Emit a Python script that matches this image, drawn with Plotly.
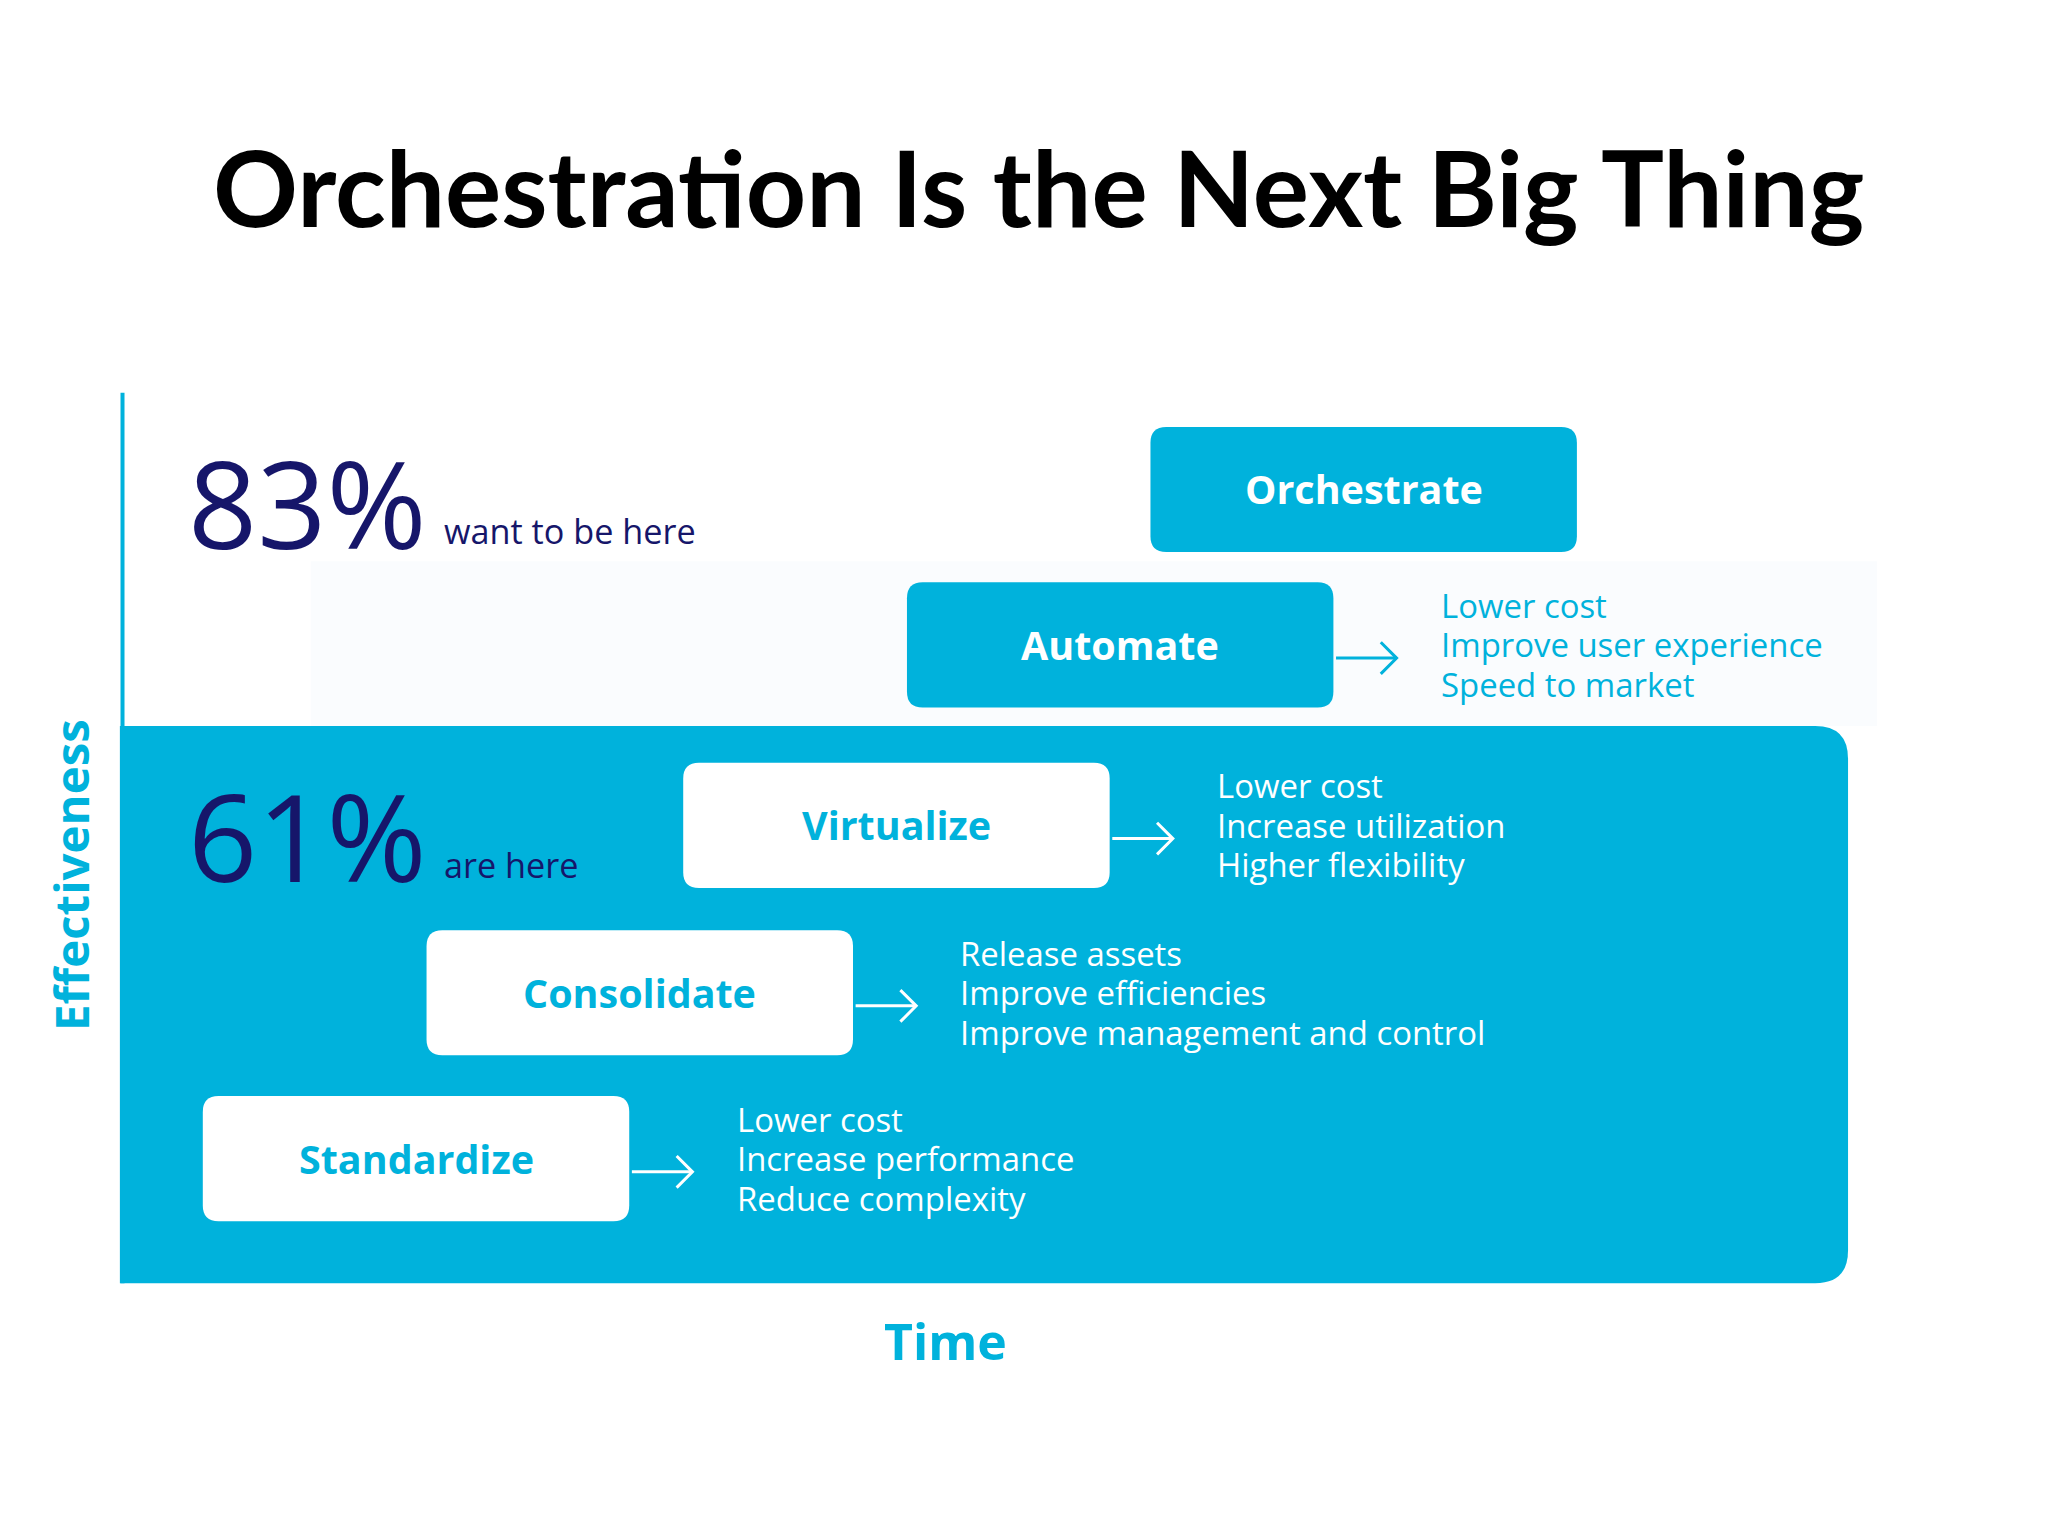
import plotly.graph_objects as go

S = 2048/1556
title = "Orchestration Is the Next Big Thing"
stages = ["Standardize", "Consolidate", "Virtualize", "Automate", "Orchestrate"]
box_left = [148, 318, 513, 683, 868]
box_top = [826, 700, 573, 436, 318]
benefits = [
    ["Lower cost", "Increase performance", "Reduce complexity"],
    ["Release assets", "Improve efficiencies", "Improve management and control"],
    ["Lower cost", "Increase utilization", "Higher flexibility"],
    ["Lower cost", "Improve user experience", "Speed to market"],
    [],
]
pct_values = ["83%", "61%"]
pct_labels = ["want to be here", "are here"]
pct_y = [375, 628]
BLUE = "#00b2dc"
NAVY = "#16166a"
BW, BH = 324, 95

fig = go.Figure()
shapes = []
ann = []

def rr(x0, y0, x1, y1, r):
    return (f"M{x0+r},{y0} L{x1-r},{y0} Q{x1},{y0} {x1},{y0+r} L{x1},{y1-r} Q{x1},{y1} {x1-r},{y1} "
            f"L{x0+r},{y1} Q{x0},{y1} {x0},{y1-r} L{x0},{y0+r} Q{x0},{y0} {x0+r},{y0} Z")

shapes.append(dict(type="rect", x0=230, x1=1420, y0=420, y1=545, fillcolor="#fafcfe", line_width=0, layer="below"))
shapes.append(dict(type="path", path=f"M85,545 L1373,545 Q1398,545 1398,570 L1398,943 Q1398,968 1373,968 L85,968 Z",
                   fillcolor=BLUE, line_width=0, layer="below"))
shapes.append(dict(type="line", x0=87, x1=87, y0=292, y1=968, line=dict(color=BLUE, width=4)))

for i, name in enumerate(stages):
    x0, y0 = box_left[i], box_top[i]
    inside = i < 3
    fill = "white" if inside else BLUE
    tc = BLUE if inside else "white"
    shapes.append(dict(type="path", path=rr(x0, y0, x0+BW, y0+BH, 12), fillcolor=fill, line_width=0))
    cy = y0 + BH/2
    ann.append(dict(x=x0+BW/2, y=cy, text=f"<b>{name}</b>", showarrow=False,
                    font=dict(family="Open Sans", size=30*S, color=tc)))
    if benefits[i]:
        ac = "white" if inside else BLUE
        shapes.append(dict(type="line", x0=x0+BW+2, x1=x0+BW+48, y0=cy+10, y1=cy+10, line=dict(color=ac, width=3)))
        shapes.append(dict(type="path", path=f"M{x0+BW+36},{cy-2} L{x0+BW+48},{cy+10} L{x0+BW+36},{cy+22}",
                           line=dict(color=ac, width=3)))
        for j, line in enumerate(benefits[i]):
            ann.append(dict(x=x0+BW+80, y=cy-30+30*j, text=line, showarrow=False, xanchor="left",
                            font=dict(family="Open Sans", size=25*S, color="white" if inside else BLUE)))

for k in range(2):
    ann.append(dict(x=135, y=pct_y[k], text=pct_values[k], showarrow=False, xanchor="left", yanchor="middle",
                    font=dict(family="Open Sans", size=92*S, color=NAVY)))
    ann.append(dict(x=330, y=pct_y[k]+22, text=pct_labels[k], showarrow=False, xanchor="left", yanchor="middle",
                    font=dict(family="Open Sans", size=26*S, color=NAVY)))

ann.append(dict(x=783, y=135, text=f"<b>{title}</b>", showarrow=False,
                font=dict(family="Lato", size=80*S, color="black")))
ann.append(dict(x=48, y=658, text="<b>Effectiveness</b>", showarrow=False, textangle=-90,
                font=dict(family="Open Sans", size=36*S, color=BLUE)))
ann.append(dict(x=712, y=1012, text="<b>Time</b>", showarrow=False,
                font=dict(family="Open Sans", size=38*S, color=BLUE)))

fig.update_layout(width=2048, height=1536, margin=dict(l=0, r=0, t=0, b=0),
                  paper_bgcolor="white", plot_bgcolor="white", shapes=shapes, annotations=ann,
                  xaxis=dict(range=[0, 1556], visible=False, fixedrange=True),
                  yaxis=dict(range=[1166, 0], visible=False, fixedrange=True),
                  showlegend=False)
fig.write_html("out.html")
